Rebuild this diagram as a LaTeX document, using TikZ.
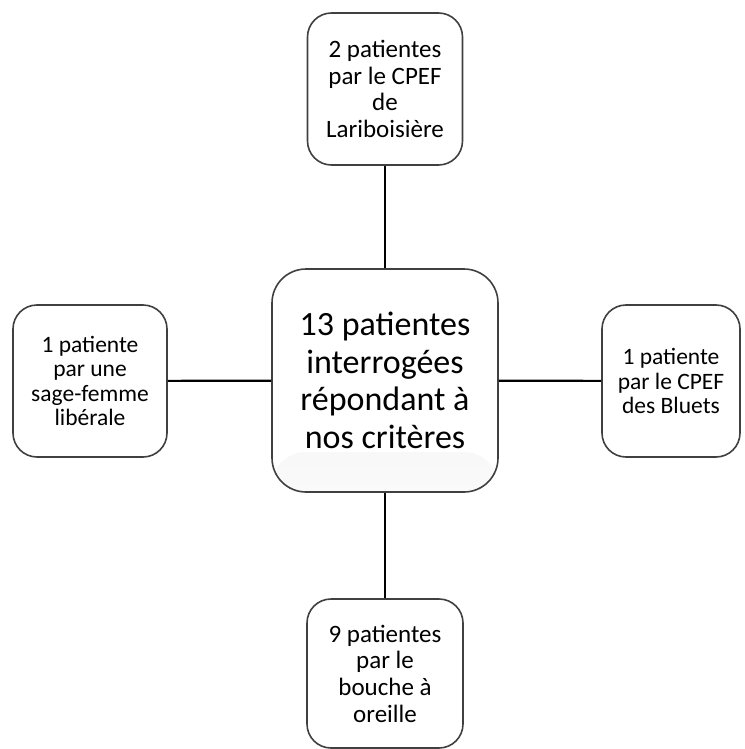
\documentclass[tikz,border=0pt]{standalone}
\usepackage{fontspec}
\setmainfont{Carlito}
\usepackage{tikz}

\begin{document}
\begin{tikzpicture}[x=1pt,y=-1pt,
   caja/.style={draw=black!75,line width=1.6pt,fill=white,rounded corners=24pt,
      align=center,inner sep=0pt,font=\fontsize{25}{26.7}\selectfont},
   enlace/.style={line width=2.2pt,black}]
   \useasboundingbox (0,0) rectangle (744,749);
   %caja central
   \node[caja,minimum width=226pt,minimum height=223pt,rounded corners=34pt,
      font=\fontsize{34}{37.5}\selectfont,
      path picture={\shade[top color=black!7,bottom color=black!2]
         (path picture bounding box.south west) rectangle
         ([yshift=40pt]path picture bounding box.south east);}]
      (centro) at (385,380.5) {13 patientes\\interrogées\\répondant à\\nos critères};
   %cajas exteriores
   \node[caja,minimum width=155pt,minimum height=152pt] (arriba) at (385,89)
      {2 patientes\\par le CPEF\\de\\Lariboisière};
   \node[caja,minimum width=154pt,minimum height=152pt,font=\fontsize{23.5}{24.5}\selectfont]
      (izq) at (90,381) {1 patiente\\par une\\sage-femme\\libérale};
   \node[caja,minimum width=138pt,minimum height=152pt,font=\fontsize{23.5}{24.5}\selectfont]
      (der) at (671,381) {1 patiente\\par le CPEF\\des Bluets};
   \node[caja,minimum width=156pt,minimum height=149pt] (abajo) at (385,673.5)
      {9 patientes\\par le\\bouche à\\oreille};
   %enlaces
   \draw[enlace] (arriba) -- (centro);
   \draw[enlace] (izq) -- (centro);
   \draw[enlace] (der) -- (centro);
   \draw[enlace] (abajo) -- (centro);
\end{tikzpicture}
\end{document}
